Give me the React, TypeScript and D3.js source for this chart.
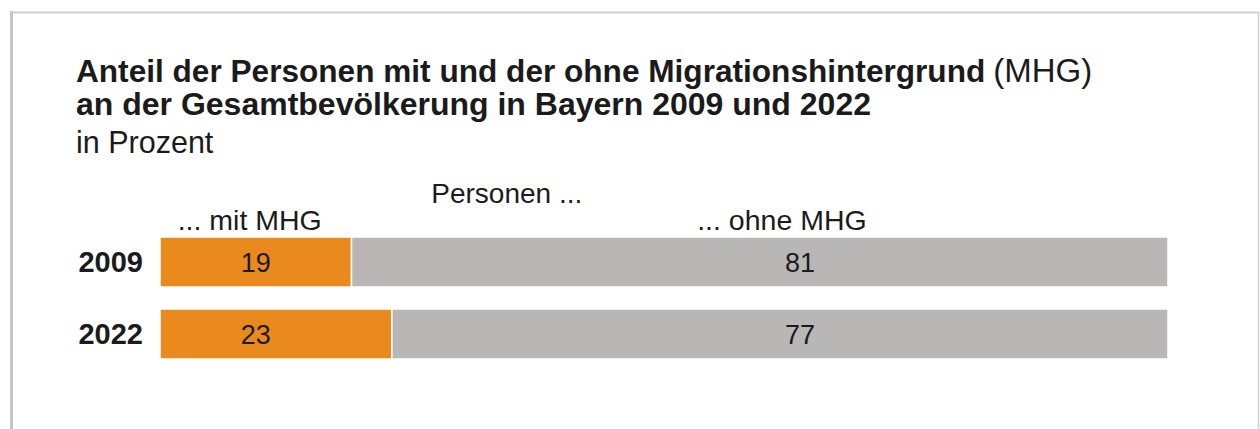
import React from "react";
import { scaleBand, scaleLinear, stack } from "d3";

const years = ["2009", "2022"];
const mitMHG = [19, 23];
const ohneMHG = [81, 77];
const seriesKeys = ["mit", "ohne"];
const seriesLabels = ["... mit MHG", "... ohne MHG"];
const groupLabel = "Personen ...";
// where (in percent units) the column heads and value labels sit
const headerAt = [8.9, 61.7];
const groupAt = 34.4;
const valueAt = [9.5, 63.5];

const colors: Record<string, string> = { mit: "#EA8A1E", ohne: "#B8B7B6" };

const rows = years.map((y, i) => ({ year: y, mit: mitMHG[i], ohne: ohneMHG[i] }));

const W = 1260;
const H = 429;
const font = "'Liberation Sans', Arial, Helvetica, sans-serif";
const ink = "#1b1b1b";

export default function App() {
  const x = scaleLinear().domain([0, 100]).range([160, 1168]);
  const y = scaleBand<string>().domain(years).range([237, 359]).paddingInner(22 / 72);
  const layers = stack<any>().keys(seriesKeys)(rows);

  return (
    <svg
      width={W}
      height={H}
      style={{ position: "absolute", left: 0, top: 0, background: "#fff" }}
      fontFamily={font}
    >
      {/* frame */}
      <line x1={11.5} y1={11} x2={11.5} y2={H} stroke="#c4c4c4" strokeWidth={3} />
      <line x1={10} y1={12.5} x2={1259} y2={12.5} stroke="#d0d0d0" strokeWidth={2} />
      <line x1={1258.5} y1={12} x2={1258.5} y2={H} stroke="#d0d0d0" strokeWidth={1.5} />

      {/* title */}
      <text x={76} y={82} fontSize={31.6} fill={ink}>
        <tspan fontWeight="bold">Anteil der Personen mit und der ohne Migrationshintergrund</tspan>
        <tspan dx={8} fontSize={33}>(MHG)</tspan>
      </text>
      <text x={76} y={115} fontSize={32} fontWeight="bold" fill={ink}>
        an der Gesamtbevölkerung in Bayern 2009 und 2022
      </text>
      <text x={76} y={153} fontSize={30.5} fill={ink}>
        in Prozent
      </text>

      {/* column heads */}
      <text x={x(groupAt)} y={203} fontSize={28} textAnchor="middle" fill={ink}>
        {groupLabel}
      </text>
      {seriesLabels.map((l, i) => (
        <text key={l} x={x(headerAt[i])} y={230} fontSize={28.5} textAnchor="middle" fill={ink}>
          {l}
        </text>
      ))}

      {/* bars */}
      {layers.map((layer) =>
        layer.map((d: any) => (
          <rect
            key={layer.key + d.data.year}
            x={x(d[0])}
            y={y(d.data.year)}
            width={x(d[1]) - x(d[0])}
            height={y.bandwidth()}
            fill={colors[layer.key]}
            stroke="#fff"
            strokeWidth={1.5}
          />
        ))
      )}

      {/* year labels */}
      {years.map((yr) => (
        <text
          key={yr}
          x={143}
          y={(y(yr) ?? 0) + y.bandwidth() / 2 + 10}
          fontSize={29}
          fontWeight="bold"
          textAnchor="end"
          fill={ink}
        >
          {yr}
        </text>
      ))}

      {/* values */}
      {rows.map((r) =>
        seriesKeys.map((k, i) => (
          <text
            key={r.year + k}
            x={x(valueAt[i])}
            y={(y(r.year) ?? 0) + y.bandwidth() / 2 + 10}
            fontSize={27}
            textAnchor="middle"
            fill={ink}
          >
            {(r as any)[k]}
          </text>
        ))
      )}
    </svg>
  );
}
